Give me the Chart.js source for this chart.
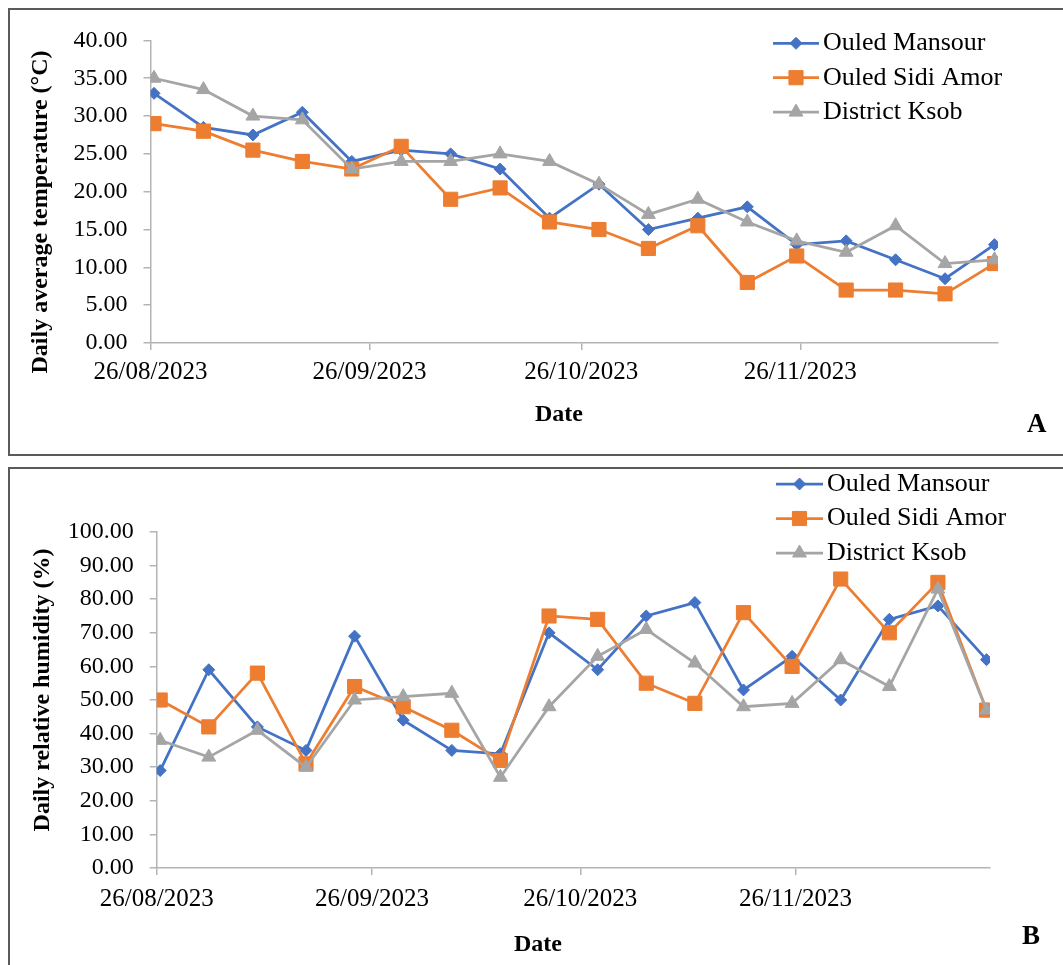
<!DOCTYPE html>
<html>
<head>
<meta charset="utf-8">
<script src="https://cdn.jsdelivr.net/npm/chart.js@4.4.0/dist/chart.umd.min.js"></script>
<style>
  html, body { margin: 0; padding: 0; background: #fff; overflow: hidden; }
  .panel { position: absolute; left: 8px; width: 1100px; border: 2px solid #5a5a5a; }
  #panelA { top: 8px; height: 444px; }
  #panelB { top: 467px; height: 600px; }
  .panel canvas { position: absolute; left: 0; top: 0; }
  .tag { position: absolute; font: bold 27px "Liberation Serif", serif; line-height: 1; color: #000; }
</style>
</head>
<body>
<div class="panel" id="panelA">
  <canvas id="chartA" width="1053" height="444"></canvas>
  <div class="tag" style="left:1017px; top:400px;">A</div>
</div>
<div class="panel" id="panelB">
  <canvas id="chartB" width="1053" height="496"></canvas>
  <div class="tag" style="left:1012px; top:453px;">B</div>
</div>
<script>
// weekly sampling dates
const sampleDates = ['26/08/2023', '02/09/2023', '09/09/2023', '16/09/2023', '23/09/2023', '30/09/2023',
  '07/10/2023', '14/10/2023', '21/10/2023', '28/10/2023', '04/11/2023', '11/11/2023',
  '18/11/2023', '25/11/2023', '02/12/2023', '09/12/2023', '16/12/2023', '23/12/2023'];
const tickDates = ['26/08/2023', '26/09/2023', '26/10/2023', '26/11/2023'];
const seriesNames = ['Ouled Mansour', 'Ouled Sidi Amor', 'District Ksob'];

// daily average temperature (°C)
const tempMansour = [33, 28.5, 27.5, 30.5, 24, 25.5, 25, 23, 16.5, 21, 15, 16.5, 18, 13, 13.5, 11, 8.5, 13];
const tempSidiAmor = [29, 28, 25.5, 24, 23, 26, 19, 20.5, 16, 15, 12.5, 15.5, 8, 11.5, 7, 7, 6.5, 10.5];
const tempKsob = [35, 33.5, 30, 29.5, 23, 24, 24, 25, 24, 21, 17, 19, 16, 13.5, 12, 15.5, 10.5, 11];

// daily relative humidity (%)
const humMansour = [29, 59, 42, 35, 69, 44, 35, 34, 70, 59, 75, 79, 53, 63, 50, 74, 78, 62];
const humSidiAmor = [50, 42, 58, 31, 54, 48, 41, 32, 75, 74, 55, 49, 76, 60, 86, 70, 85, 47];
const humKsob = [38, 33, 41, 30, 50, 51, 52, 27, 48, 63, 71, 61, 48, 49, 62, 54, 83, 47];

const FONT = '"Liberation Serif", "DejaVu Serif", serif';
const AXIS = '#b4b4b4';
Chart.defaults.font.family = FONT;
Chart.defaults.color = '#000';

function toDay(s) {
  const [d, m, y] = s.split('/').map(Number);
  return Date.UTC(y, m - 1, d) / 86400000;
}
const day0 = toDay(sampleDates[0]);
const sampleDays = sampleDates.map(s => toDay(s) - day0);
const tickDays = tickDates.map(s => toDay(s) - day0);
const axisEnd = sampleDays[sampleDays.length - 1] + 1;

const looks = [
  { color: '#4472C4', style: 'rectRot', radius: 6, order: 2 },
  { color: '#ED7D31', style: 'rect', radius: 10, order: 1 },
  { color: '#A5A5A5', style: 'triangle', radius: 8, order: 0 }
];

function dataset(i, values) {
  const l = looks[i];
  return {
    label: seriesNames[i],
    order: l.order,
    data: values.map((v, k) => ({ x: sampleDays[k] + 0.5, y: v })),
    borderColor: l.color,
    backgroundColor: l.color,
    borderWidth: 2.75,
    pointStyle: l.style,
    pointRadius: l.radius,
    pointBorderWidth: 1,
    pointBackgroundColor: l.color,
    pointBorderColor: l.color
  };
}

// legend + axis titles drawn at fixed spots, like the Excel original
const decor = {
  id: 'decor',
  afterDraw(chart, args, o) {
    const ctx = chart.ctx;
    ctx.save();
    chart.data.datasets.forEach((ds, i) => {
      const y = o.legend.y + i * o.legend.gap;
      ctx.strokeStyle = ds.borderColor;
      ctx.lineWidth = ds.borderWidth;
      ctx.beginPath();
      ctx.moveTo(o.legend.x, y);
      ctx.lineTo(o.legend.x + o.legend.len, y);
      ctx.stroke();
      ctx.fillStyle = ds.borderColor;
      ctx.lineWidth = 1;
      Chart.helpers.drawPoint(ctx, { pointStyle: ds.pointStyle, radius: ds.pointRadius, rotation: 0, borderWidth: 1 },
        o.legend.x + o.legend.len / 2, y);
      ctx.fillStyle = '#000';
      ctx.font = '26px ' + FONT;
      ctx.textAlign = 'left';
      ctx.textBaseline = 'middle';
      ctx.fillText(ds.label, o.legend.x + o.legend.len + 4, y);
    });
    ctx.font = 'bold 24px ' + FONT;
    ctx.textAlign = 'center';
    ctx.textBaseline = 'middle';
    ctx.fillText(o.xTitle.text, o.xTitle.x, o.xTitle.y);
    ctx.translate(o.yTitle.x, o.yTitle.y);
    ctx.rotate(-Math.PI / 2);
    ctx.fillText(o.yTitle.text, 0, 0);
    ctx.restore();
  }
};

function makeChart(id, series, yMax, yStep, box, deco) {
  return new Chart(id, {
    type: 'line',
    data: { datasets: series.map((v, i) => dataset(i, v)) },
    plugins: [decor],
    options: {
      responsive: false,
      animation: false,
      layout: { padding: { top: box.top, right: box.right, left: 0, bottom: 0 } },
      plugins: { legend: { display: false }, tooltip: { enabled: false }, decor: deco },
      scales: {
        x: {
          type: 'linear',
          min: 0,
          max: axisEnd,
          afterBuildTicks: s => { s.ticks = tickDays.map(v => ({ value: v })); },
          afterFit: s => { s.height = box.xh; },
          ticks: {
            callback: (v, i) => tickDates[i],
            font: { size: 25 },
            color: '#000',
            padding: box.xpad,
            maxRotation: 0,
            autoSkip: false
          },
          grid: { drawOnChartArea: false, tickLength: 7, color: AXIS, lineWidth: 1.5 },
          border: { color: AXIS, width: 1.5 }
        },
        y: {
          min: 0,
          max: yMax,
          afterFit: s => { s.width = box.yw; },
          ticks: { stepSize: yStep, callback: v => v.toFixed(2), font: { size: 24 }, color: '#000', padding: 16 },
          grid: { drawOnChartArea: false, tickLength: 7, color: AXIS, lineWidth: 1.5 },
          border: { color: AXIS, width: 1.5 }
        }
      }
    }
  });
}

makeChart('chartA', [tempMansour, tempSidiAmor, tempKsob], 40, 5,
  { top: 28, right: 65, yw: 140.5, xh: 111, xpad: 7 },
  {
    legend: { x: 763, y: 33.3, gap: 34.4, len: 46 },
    xTitle: { text: 'Date', x: 549, y: 405 },
    yTitle: { text: 'Daily average temperature (°C)', x: 30.5, y: 202 }
  });

makeChart('chartB', [humMansour, humSidiAmor, humKsob], 100, 10,
  { top: 63, right: 73, yw: 146.7, xh: 97, xpad: 9 },
  {
    legend: { x: 766, y: 15, gap: 34.5, len: 47 },
    xTitle: { text: 'Date', x: 528, y: 476 },
    yTitle: { text: 'Daily relative humidity (%)', x: 33, y: 221 }
  });
</script>
</body>
</html>
